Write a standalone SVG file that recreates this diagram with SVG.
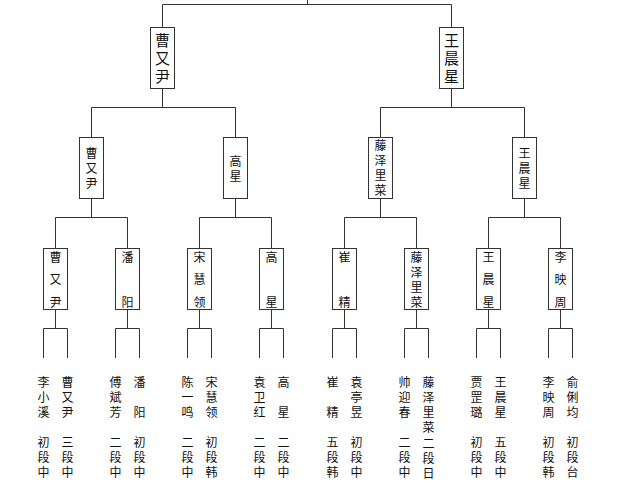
<svg xmlns="http://www.w3.org/2000/svg" width="640" height="484" viewBox="0 0 640 484">
<style>
.ln{stroke:#333;stroke-width:1;fill:none}
.bx{fill:#fff;stroke:#333;stroke-width:1}
text{font-family:"Noto Sans CJK SC","Noto Sans",sans-serif;fill:#111;writing-mode:vertical-rl;text-anchor:start}
.t1{font-size:15px;letter-spacing:3px}
.t2{font-size:12px;letter-spacing:3px}
.t3{font-size:12px;letter-spacing:10.5px}
.p{font-size:12px;letter-spacing:3px}
</style>
<rect width="640" height="484" fill="#fff"/>
<g id="connectors">
<path class="ln" d="M307.5 0V4.5M162.5 4.5H451.5M162.5 4.5V27M451.5 4.5V27"/>
<path class="ln" d="M162.5 88V107.5M91.5 107.5H235.5M91.5 107.5V137.5M235.5 107.5V137.5"/>
<path class="ln" d="M451.5 88V107.5M380.5 107.5H524.5M380.5 107.5V137.5M524.5 107.5V137.5"/>
<path class="ln" d="M91.5 198.5V217.5M55.5 217.5H127.5M55.5 217.5V248.5M127.5 217.5V248.5"/>
<path class="ln" d="M235.5 198.5V217.5M199.5 217.5H271.5M199.5 217.5V248.5M271.5 217.5V248.5"/>
<path class="ln" d="M380.5 198.5V217.5M344.5 217.5H416.5M344.5 217.5V248.5M416.5 217.5V248.5"/>
<path class="ln" d="M524.5 198.5V217.5M488.5 217.5H560.5M488.5 217.5V248.5M560.5 217.5V248.5"/>
<path class="ln" d="M55.5 309.5V328.5M43.5 328.5H67.5M43.5 328.5V358M67.5 328.5V358"/>
<path class="ln" d="M127.5 309.5V328.5M115.5 328.5H139.5M115.5 328.5V358M139.5 328.5V358"/>
<path class="ln" d="M199.5 309.5V328.5M187.5 328.5H211.5M187.5 328.5V358M211.5 328.5V358"/>
<path class="ln" d="M271.5 309.5V328.5M259.5 328.5H283.5M259.5 328.5V358M283.5 328.5V358"/>
<path class="ln" d="M344.5 309.5V328.5M332.5 328.5H356.5M332.5 328.5V358M356.5 328.5V358"/>
<path class="ln" d="M416.5 309.5V328.5M404.5 328.5H428.5M404.5 328.5V358M428.5 328.5V358"/>
<path class="ln" d="M488.5 309.5V328.5M476.5 328.5H500.5M476.5 328.5V358M500.5 328.5V358"/>
<path class="ln" d="M560.5 309.5V328.5M548.5 328.5H572.5M548.5 328.5V358M572.5 328.5V358"/>
</g>
<g id="final-left"><rect class="bx" x="150.5" y="27.5" width="24" height="61"/><text class="t1" x="162.5" y="32.5">曹又尹</text></g>
<g id="final-right"><rect class="bx" x="439.5" y="27.5" width="24" height="61"/><text class="t1" x="451.5" y="32.5">王晨星</text></g>

<g id="semi-1"><rect class="bx" x="79.5" y="137.5" width="24" height="61"/><text class="t2" x="91.5" y="147">曹又尹</text></g>
<g id="semi-2"><rect class="bx" x="223.5" y="137.5" width="24" height="61"/><text class="t2" x="235.5" y="155">高星</text></g>
<g id="semi-3"><rect class="bx" x="368.5" y="137.5" width="24" height="61"/><text class="t2" x="380.5" y="139.5">藤泽里菜</text></g>
<g id="semi-4"><rect class="bx" x="512.5" y="137.5" width="24" height="61"/><text class="t2" x="524.5" y="147.5">王晨星</text></g>

<g id="q1"><rect class="bx" x="43.5" y="248.5" width="24" height="61"/><text class="t3" x="55.5" y="251">曹又尹</text></g>
<g id="q2"><rect class="bx" x="115.5" y="248.5" width="24" height="61"/><text class="t3" x="127.5" y="251">潘　阳</text></g>
<g id="q3"><rect class="bx" x="187.5" y="248.5" width="24" height="61"/><text class="t3" x="199.5" y="251">宋慧领</text></g>
<g id="q4"><rect class="bx" x="259.5" y="248.5" width="24" height="61"/><text class="t3" x="271.5" y="251">高　星</text></g>
<g id="q5"><rect class="bx" x="332.5" y="248.5" width="24" height="61"/><text class="t3" x="344.5" y="251">崔　精</text></g>
<g id="q6"><rect class="bx" x="404.5" y="248.5" width="24" height="61"/><text class="t2" x="416.5" y="251">藤泽里菜</text></g>
<g id="q7"><rect class="bx" x="476.5" y="248.5" width="24" height="61"/><text class="t3" x="488.5" y="251">王晨星</text></g>
<g id="q8"><rect class="bx" x="548.5" y="248.5" width="24" height="61"/><text class="t3" x="560.5" y="251">李映周</text></g>

<g id="players">
<text class="p" x="43.5" y="376.5">李小溪</text><text class="p" x="43.5" y="436.5">初段中</text>
<text class="p" x="67.5" y="376.5">曹又尹</text><text class="p" x="67.5" y="436.5">三段中</text>
<text class="p" x="115.5" y="376.5">傅斌芳</text><text class="p" x="115.5" y="436.5">二段中</text>
<text class="p" x="139.5" y="376.5">潘　阳</text><text class="p" x="139.5" y="436.5">初段中</text>
<text class="p" x="187.5" y="376.5">陈一鸣</text><text class="p" x="187.5" y="436.5">二段中</text>
<text class="p" x="211.5" y="376.5">宋慧领</text><text class="p" x="211.5" y="436.5">初段韩</text>
<text class="p" x="259.5" y="376.5">袁卫红</text><text class="p" x="259.5" y="436.5">二段中</text>
<text class="p" x="283.5" y="376.5">高　星</text><text class="p" x="283.5" y="436.5">二段中</text>
<text class="p" x="332.5" y="376.5">崔　精</text><text class="p" x="332.5" y="436.5">五段韩</text>
<text class="p" x="356.5" y="376.5">袁亭昱</text><text class="p" x="356.5" y="436.5">初段中</text>
<text class="p" x="404.5" y="376.5">帅迎春</text><text class="p" x="404.5" y="436.5">二段中</text>
<text class="p" x="428.5" y="376.5">藤泽里菜</text><text class="p" x="428.5" y="437">二段日</text>
<text class="p" x="476.5" y="376.5">贾罡璐</text><text class="p" x="476.5" y="436.5">初段中</text>
<text class="p" x="500.5" y="376.5">王晨星</text><text class="p" x="500.5" y="436.5">五段中</text>
<text class="p" x="548.5" y="376.5">李映周</text><text class="p" x="548.5" y="436.5">初段韩</text>
<text class="p" x="572.5" y="376.5">俞俐均</text><text class="p" x="572.5" y="436.5">初段台</text>
</g>
</svg>
